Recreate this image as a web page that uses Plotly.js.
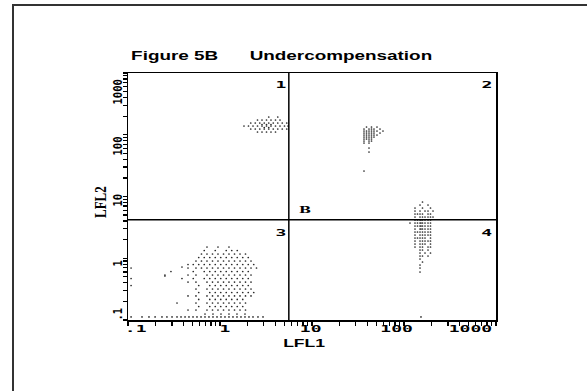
<!DOCTYPE html>
<html><head><meta charset="utf-8">
<script src="https://cdn.plot.ly/plotly-3.0.1.min.js"></script>
<style>html,body{margin:0;padding:0;background:#fff;}#chart{width:587px;height:391px;}</style>
</head><body><div id="chart"></div>
<script>
// ---- text ----
const titleText = 'Figure 5B' + '\u00a0\u00a0\u00a0\u00a0\u00a0\u00a0' + 'Undercompensation';
const xAxisLabel = 'LFL1';
const yAxisLabel = 'LFL2';
const tickVals = [0.1, 1, 10, 100, 1000];
const tickLabels = ['.1', '1', '10', '100', '1000'];
const quadrantLabels = ['1', '2', '3', '4'];
const gateLabel = 'B';
// quadrant cursor positions (LFL1, LFL2)
const quadX = 5.6;
const quadY = 4.2;

// ---- quadrant 1 events (rows of LFL2 with their LFL1 values) ----
const q1RowY = [193.9, 173.3, 155.0, 146.6, 138.6, 131.1, 123.9, 110.8];
const q1RowX = [
  [3.388, 4.244],
  [2.556, 2.861, 3.202, 3.583, 4.011, 4.489],
  [2.159, 2.417, 2.705, 3.027, 3.388, 3.792, 4.244, 4.749, 5.316],
  [2.861, 3.202, 3.583],
  [1.823, 2.040, 2.284, 2.556, 2.861, 3.202, 3.583, 4.011, 4.489, 5.024, 5.485],
  [3.027, 3.388],
  [2.159, 2.417, 2.705, 3.027, 3.388, 3.792, 4.244, 4.749, 5.316],
  [2.556, 2.861, 3.202, 3.583, 4.011]
];

// ---- quadrant 2 events ----
const q2RowY = [133.5, 123.9, 115.0, 106.7, 99.1, 91.9, 85.3, 79.2, 73.5, 61.0, 52.6, 25.9];
const q2RowX = [
  [39.13, 44.33, 50.87],
  [36.75, 41.65, 44.33, 47.19, 54.84],
  [36.75, 39.13, 41.65, 44.33, 47.19, 50.87, 59.11],
  [36.75, 39.13, 41.65, 44.33, 47.19, 54.84],
  [36.75, 39.13, 41.65, 44.33, 47.19, 50.87],
  [36.75, 39.13, 41.65, 44.33, 47.19],
  [36.75, 39.13, 41.65, 44.33],
  [36.75, 41.65, 44.33],
  [36.75, 41.65],
  [41.65],
  [41.65],
  [36.75]
];

// ---- quadrant 3 events ----
const q3RowY = [1.521, 1.335, 1.172, 1.028, 0.903, 0.792, 0.695, 0.610, 0.535, 0.470, 0.412, 0.362, 0.318, 0.279, 0.245, 0.215, 0.1885, 0.1654, 0.1452, 0.125, 0.112];
const q3RowX = [
  [0.722, 0.951, 1.252],
  [0.674, 0.888, 1.169, 1.342, 1.540],
  [0.629, 0.722, 0.829, 0.951, 1.092, 1.252, 1.438, 1.650, 1.893],
  [0.587, 0.674, 0.774, 0.888, 1.019, 1.169, 1.342, 1.540, 1.767, 2.028],
  [0.548, 0.629, 0.722, 0.829, 0.951, 1.092, 1.252, 1.438, 1.650, 1.893, 2.173],
  [0.449, 0.512, 0.587, 0.674, 0.774, 0.888, 1.019, 1.169, 1.342, 1.540, 1.767, 2.028, 2.327],
  [0.108, 0.449, 0.548, 0.629, 0.722, 0.829, 0.951, 1.092, 1.252, 1.438, 1.650, 1.893, 2.173, 2.493],
  [0.293, 0.512, 0.674, 0.774, 0.888, 1.019, 1.169, 1.342, 1.540, 1.767, 2.028],
  [0.252, 0.449, 0.548, 0.722, 0.829, 0.951, 1.092, 1.252, 1.438, 1.650, 1.893, 2.173],
  [0.108, 0.386, 0.512, 0.674, 0.774, 0.888, 1.019, 1.169, 1.342, 1.540, 1.767, 2.028],
  [0.449, 0.548, 0.722, 0.829, 0.951, 1.092, 1.252, 1.438, 1.650, 1.893, 2.173],
  [0.108, 0.587, 0.774, 0.888, 1.019, 1.169, 1.342, 1.540, 1.767, 2.028],
  [0.548, 0.722, 0.829, 0.951, 1.092, 1.252, 1.438, 1.650, 1.893, 2.173],
  [0.587, 0.774, 0.888, 1.019, 1.169, 1.342, 1.540, 1.767, 2.028, 2.327],
  [0.449, 0.548, 0.722, 0.829, 0.951, 1.092, 1.252, 1.438, 1.650, 1.893, 2.173],
  [0.587, 0.774, 0.888, 1.019, 1.169, 1.342, 1.540, 1.767],
  [0.341, 0.548, 0.722, 0.829, 0.951, 1.092, 1.252, 1.438, 1.650, 1.893],
  [0.587, 0.774, 0.888, 1.019, 1.169, 1.342, 1.540, 1.767],
  [0.449, 0.548, 0.722, 0.829, 0.951, 1.092, 1.252, 1.438, 1.650, 1.893],
  [0.687, 0.839, 1.025, 1.252, 1.530, 1.869],
  [0.108, 0.142, 0.169, 0.197, 0.234, 0.265, 0.301, 0.341, 0.377, 0.417, 0.460, 0.509, 0.562, 0.622, 0.687, 0.759, 0.839, 0.928, 1.025, 1.133, 1.252, 1.384, 1.530, 1.691, 1.869, 2.066, 2.284, 2.588, 2.934]
];
const q3ExtraX = [0.386, 0.252];
const q3ExtraY = [0.722, 0.516];

// ---- quadrant 4 events ----
const q4RowY = [8.145, 7.286, 6.513, 5.824, 5.207, 4.656, 4.163, 3.722, 3.328, 2.976, 2.661, 2.379, 2.127, 1.902, 1.701, 1.521, 1.360, 1.216, 1.087, 0.972, 0.869, 0.777, 0.695, 0.599, 0.112];
const q4RowX = [
  [158.9],
  [149.3, 182.4],
  [131.7, 158.9, 194.1],
  [131.7, 149.3, 169.2, 182.4, 206.7],
  [131.7, 140.2, 149.3, 158.9, 182.4, 194.1],
  [131.7, 149.3, 158.9, 169.2, 182.4, 194.1, 206.7],
  [131.7, 140.2, 149.3, 153.0, 158.9, 169.2, 182.4, 194.1],
  [116.2, 131.7, 140.2, 149.3, 153.0, 158.9, 169.2, 182.4, 194.1],
  [131.7, 140.2, 149.3, 153.0, 158.9, 169.2, 182.4, 194.1],
  [131.7, 149.3, 153.0, 158.9, 169.2, 182.4, 194.1],
  [131.7, 140.2, 149.3, 158.9, 169.2, 182.4, 194.1],
  [131.7, 149.3, 158.9, 169.2, 182.4, 194.1],
  [131.7, 140.2, 149.3, 158.9, 169.2, 194.1],
  [131.7, 149.3, 158.9, 169.2, 182.4, 194.1],
  [131.7, 149.3, 158.9, 169.2, 194.1],
  [131.7, 149.3, 158.9, 182.4, 194.1],
  [149.3, 158.9, 182.4],
  [149.3, 169.2, 194.1],
  [149.3, 158.9, 182.4],
  [149.3],
  [158.9],
  [149.3],
  [149.3],
  [149.3],
  [153.0]
];

function flatten(rowY, rowX) {
  const x = [], y = [];
  rowY.forEach(function (yy, i) { rowX[i].forEach(function (xx) { x.push(xx); y.push(yy); }); });
  return {x: x, y: y};
}
const q1 = flatten(q1RowY, q1RowX);
const q2 = flatten(q2RowY, q2RowX);
const q3 = flatten(q3RowY, q3RowX);
const q4 = flatten(q4RowY, q4RowX);

const dotStyle = {size: 1.7, color: '#2a2a2a', line: {width: 0}};
function dots(d) { return {type: 'scatter', mode: 'markers', x: d.x, y: d.y, marker: dotStyle, hoverinfo: 'skip'}; }

const traces = [
  dots(q1), dots(q2), dots(q3), dots({x: q3ExtraX, y: q3ExtraY}), dots(q4),
  {type: 'scatter', mode: 'lines', x: [quadX, quadX], y: [tickVals[0], tickVals[4]], line: {color: '#000', width: 1.5}, hoverinfo: 'skip'},
  {type: 'scatter', mode: 'lines', x: [tickVals[0], tickVals[4]], y: [quadY, quadY], line: {color: '#000', width: 1.5}, hoverinfo: 'skip'}
];

// pixel layout helpers (plot area 128..496 x 73..320)
const L = 128, T = 73, W = 368, H = 247;
function px(v) { return (v - L) / W; }
function py(v) { return (T + H - v) / H; }

const monoB = {family: 'DejaVu Sans Mono', size: 9.5, color: '#000', weight: 'bold'};
const anns = [];
const stretch = [];
function add(a, tr, origin) { anns.push(Object.assign({showarrow: false, borderpad: 0}, a)); stretch.push([tr, origin || '50% 50%']); }

add({text: titleText, xref: 'paper', yref: 'paper', x: px(130), y: py(55.5), xanchor: 'left', yanchor: 'middle',
     font: {family: 'Liberation Sans', size: 13.5, color: '#000', weight: 'bold'}}, 'scaleX(1.4)', '0% 50%');
const xShift = [8, 4.5, -1, -8, -26];
tickLabels.forEach(function (t, i) {
  add({text: t, xref: 'x', yref: 'paper', x: Math.log10(tickVals[i]), xshift: xShift[i], y: py(328.5), xanchor: 'center', yanchor: 'middle', font: monoB}, 'scaleX(1.9)');
});
const yShift = [6, -5.75, -3.5, -11.25, -19];
tickLabels.forEach(function (t, i) {
  add({text: t, xref: 'paper', yref: 'y', x: px(117.5), y: Math.log10(tickVals[i]), yshift: yShift[i], xanchor: 'center', yanchor: 'middle', textangle: -90,
       font: {family: 'DejaVu Sans Mono', size: 10.5, color: '#000', weight: 'bold'}}, 'scaleY(1.15)');
});
add({text: yAxisLabel, xref: 'paper', yref: 'paper', x: px(101), y: py(202), xanchor: 'center', yanchor: 'middle', textangle: -90,
     font: {family: 'Liberation Serif', size: 13, color: '#000', weight: 'bold'}}, 'scaleY(1.25)');
add({text: xAxisLabel, xref: 'paper', yref: 'paper', x: px(303.5), y: py(342.5), xanchor: 'center', yanchor: 'middle',
     font: {family: 'Liberation Sans', size: 11, color: '#000', weight: 'bold'}}, 'scaleX(1.6)');
const qPos = [[281, 84], [487, 84], [281, 232], [487, 232]];
quadrantLabels.forEach(function (t, i) {
  add({text: t, xref: 'paper', yref: 'paper', x: px(qPos[i][0]), y: py(qPos[i][1]), xanchor: 'center', yanchor: 'middle', font: monoB}, 'scaleX(1.9)');
});
add({text: gateLabel, xref: 'paper', yref: 'paper', x: px(305), y: py(209), xanchor: 'center', yanchor: 'middle',
     font: {family: 'DejaVu Serif', size: 9.5, color: '#000', weight: 'bold'}}, 'scaleX(1.5)');

const axisCommon = {type: 'log', range: [-1, 3], dtick: 'D1', ticks: 'outside', ticklen: 4, tickwidth: 1.2, tickcolor: '#000',
  showticklabels: false, showline: true, linecolor: '#000', linewidth: 1.5, mirror: true, showgrid: false, zeroline: false, fixedrange: true};

const layout = {
  width: 587, height: 391,
  margin: {l: L, r: 587 - L - W, t: T, b: 391 - T - H, pad: 0},
  paper_bgcolor: '#fff', plot_bgcolor: '#fff', showlegend: false,
  xaxis: Object.assign({}, axisCommon),
  yaxis: Object.assign({}, axisCommon),
  annotations: anns,
  shapes: [
    {type: 'line', xref: 'paper', yref: 'paper', x0: px(13), x1: px(13), y0: py(391), y1: py(5), line: {color: '#333', width: 2}},
    {type: 'line', xref: 'paper', yref: 'paper', x0: px(12), x1: px(587), y0: py(5), y1: py(5), line: {color: '#333', width: 2}}
  ]
};

Plotly.newPlot('chart', traces, layout, {staticPlot: true, displayModeBar: false}).then(function (gd) {
  gd.querySelectorAll('.annotation').forEach(function (g) {
    const i = +g.getAttribute('data-index');
    const t = g.querySelector('text');
    if (!t || !stretch[i]) return;
    t.style.transformBox = 'fill-box';
    t.style.transformOrigin = stretch[i][1];
    t.style.transform = stretch[i][0];
  });
});
</script></body></html>
